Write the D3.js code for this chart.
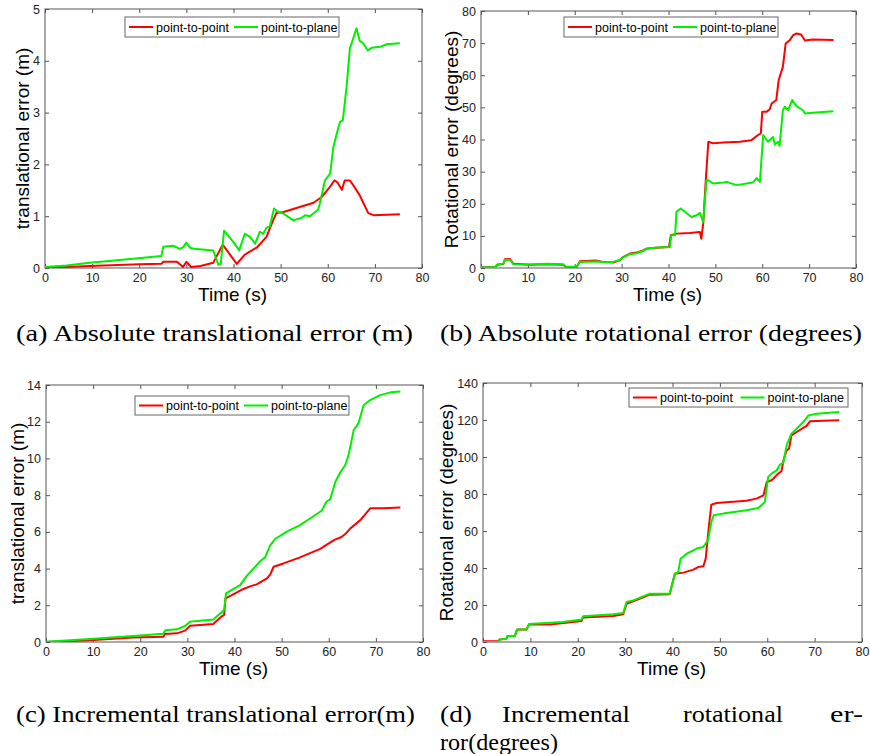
<!DOCTYPE html>
<html>
<head>
<meta charset="utf-8">
<script src="https://cdn.jsdelivr.net/npm/d3@7"></script>
<style>
  body { margin: 0; background: #fff; }
  svg { display: block; }
</style>
</head>
<body>
<div id="figure"></div>
<script>
// series names + x ticks shared by all four plots
const seriesNames = ["point-to-point", "point-to-plane"];
const timeTicks = [0, 10, 20, 30, 40, 50, 60, 70, 80];

// (a) absolute translational error, [time (s), error (m)]
const absTransPoint = [[0,0],[9.5,0.04],[20,0.07],[24.7,0.08],[25.1,0.12],[28,0.12],[29.3,0.02],[30,0.12],[31,0.02],[33,0.04],[35.7,0.1],[37.7,0.45],[40.7,0.08],[42.4,0.26],[45,0.4],[47,0.6],[48.4,0.92],[49.1,1.06],[50.6,1.08],[57,1.26],[58.7,1.37],[60.5,1.57],[61.4,1.69],[62,1.66],[63,1.51],[63.6,1.69],[64.7,1.69],[65.4,1.6],[66.8,1.4],[68.6,1.06],[69.7,1.02],[75.3,1.04]];
const absTransPlane = [[0,0.02],[4.6,0.05],[9.5,0.1],[18.7,0.18],[24.7,0.23],[25.1,0.41],[27.2,0.43],[28.6,0.37],[29.3,0.4],[30,0.49],[30.8,0.39],[31.6,0.37],[35.7,0.34],[36.8,0.06],[37.3,0.08],[38,0.72],[40,0.5],[41.2,0.34],[42.4,0.66],[43.5,0.6],[44.6,0.47],[45.6,0.7],[46.3,0.66],[47,0.78],[47.7,0.8],[48.6,1.15],[49.5,1.08],[50.6,1.05],[52.7,0.92],[54.5,0.97],[55.2,1.02],[56.2,1.0],[58,1.13],[58.3,1.24],[59.4,1.69],[60.5,1.82],[61.2,2.34],[62.1,2.66],[62.6,2.82],[63.2,2.85],[64,3.5],[64.7,4.24],[65.4,4.43],[66.1,4.63],[66.8,4.38],[67.5,4.34],[68.5,4.2],[69.3,4.25],[71.1,4.27],[72.5,4.32],[75.3,4.34]];

// (b) absolute rotational error, [time (s), error (deg)]
const absRotPoint = [[0,0.2],[3,0.2],[3.5,1.0],[4.8,1.3],[5.1,2.7],[6.2,2.8],[6.9,1.3],[10.4,1.0],[14,1.2],[17.5,1.0],[18.1,0.3],[20.4,0.3],[21.1,2.1],[24.7,2.3],[26,1.9],[28.2,1.7],[29.6,2.4],[30.3,3.4],[31.8,4.5],[33.2,4.8],[34.6,5.5],[35.3,6.0],[37.4,6.3],[40.1,6.5],[40.5,10.2],[41.7,10.7],[44.5,10.9],[46.7,11.2],[47,9.1],[47.4,13.8],[48,28.4],[48.5,39.3],[49.5,38.8],[51.7,39.1],[55.2,39.3],[57.7,39.8],[59.1,41.4],[59.7,41.9],[60,48.6],[60.9,48.6],[61.6,49.4],[62,51.2],[63,52.3],[63.5,58.5],[64.4,62.6],[65,69.9],[65.9,71],[66.6,72.5],[67.3,73],[68.3,72.7],[69.1,70.8],[70.8,71.1],[75.2,71]];
const absRotPlane = [[0,0.2],[3,0.2],[3.5,1.1],[4.8,1.4],[5.1,2.5],[6.2,2.5],[6.9,1.2],[10.4,1.1],[14,1.3],[17.5,1.2],[18.1,0.4],[20.4,0.4],[21.1,1.9],[24.7,2.0],[26,1.9],[28.2,1.9],[29.6,2.5],[30.3,3.3],[31.8,4.3],[33.2,4.6],[34.6,5.3],[35.3,6.0],[37.4,6.4],[40.3,6.5],[40.6,10.2],[41.4,10.2],[41.7,17.5],[42.6,18.5],[43.5,17.5],[44.9,15.9],[46,16.4],[46.7,17.2],[47.4,14.3],[48.1,27.3],[48.5,27.3],[49.5,26.3],[51.7,26.6],[52.4,26.8],[54.5,25.8],[58,26.6],[58.8,28],[59.5,26.8],[60.2,41.4],[61.2,39.3],[62.3,40.8],[62.7,38.5],[63.4,39.3],[63.7,38],[64.4,49.1],[64.8,50.2],[65.5,49.1],[66.4,52.3],[67.3,50.4],[68.7,49.1],[69.1,48.1],[70.8,48.3],[75.2,48.8]];

// (c) incremental translational error, [time (s), error (m)]
const incTransPoint = [[0,0],[9.3,0.1],[18.5,0.24],[24.9,0.29],[25.2,0.44],[27.8,0.47],[29.5,0.62],[30.6,0.89],[32.7,0.93],[35.5,0.98],[37,1.34],[37.8,1.47],[38.1,2.38],[39.8,2.61],[41.9,2.89],[43.3,3.03],[44.7,3.14],[46.9,3.47],[47.6,3.69],[48.3,4.1],[50.4,4.28],[53.9,4.61],[58.2,5.07],[60,5.37],[61.2,5.56],[62.7,5.72],[63.5,5.88],[64.6,6.19],[66.7,6.64],[68.8,7.28],[71.6,7.28],[75.2,7.33]];
const incTransPlane = [[0,0.02],[9.3,0.16],[18.5,0.33],[24.9,0.45],[25.3,0.64],[27.8,0.69],[29.5,0.87],[30.6,1.11],[32.7,1.16],[35.5,1.23],[37.8,1.74],[38.2,2.65],[39.8,2.89],[41.2,3.1],[42.6,3.6],[44.7,4.19],[45.5,4.41],[46.5,4.61],[47.6,5.28],[48.6,5.61],[51.1,6.01],[53.9,6.37],[56.1,6.74],[58.5,7.15],[59.5,7.64],[60.3,7.77],[61.4,8.73],[62.4,9.22],[63.5,9.64],[64.2,10.18],[65.3,11.55],[66.3,11.91],[67.4,12.9],[68.8,13.18],[70.9,13.45],[73.1,13.6],[75.2,13.65]];

// (d) incremental rotational error, [time (s), error (deg)]
const incRotPoint = [[0,0.4],[3.2,0.4],[3.5,1.4],[4.9,1.8],[5.2,3.2],[6.7,3.2],[7.2,6.8],[9.2,6.8],[9.7,9.4],[14.1,9.5],[18,10.5],[20.8,11.4],[21.1,13.3],[27.5,14],[29.6,15],[30.3,20.7],[31.7,22],[33.8,24.1],[35.2,25.6],[39.4,25.8],[40.5,36.9],[42.3,37.5],[44.4,39.1],[45.4,40.5],[46.5,40.9],[47,45],[47.7,63],[48.2,74.2],[49.3,75.1],[52.1,75.7],[55.6,76.4],[57.7,77.5],[59.2,79.3],[59.9,86.5],[60.9,87.4],[61.6,89.2],[62.3,91],[63,92.3],[63.5,99.1],[64.1,103.6],[64.6,104.5],[65.1,111.7],[66.2,113.5],[67.6,115.7],[68.3,116.8],[69,119.3],[71.8,119.6],[75.2,119.8]];
const incRotPlane = [[0,0],[3.2,0],[3.5,1.4],[4.9,1.8],[5.2,3.2],[6.7,3.2],[7.2,6.8],[9.2,6.8],[9.7,9.7],[16.9,10.8],[20.8,12.1],[21.1,13.9],[27.5,15],[29.6,15.7],[30.3,21.6],[31.7,22.5],[33.8,24.7],[35.2,26.1],[39.4,26.1],[40.5,36.9],[41.2,37.8],[41.7,45],[43,47.7],[45.1,50.5],[46.5,51.4],[47.5,55],[48.2,64.9],[48.7,68.5],[50.7,69.4],[55.6,71.2],[58.1,72.4],[59.5,75.7],[60.2,89.2],[60.9,91],[62,92.8],[62.7,95.9],[63.4,97],[64.1,106.3],[65.1,112.6],[66.2,115.3],[67.6,118.9],[68.7,122.5],[70.4,123.4],[75.2,124.3]];

// y ticks per plot
const absTransTicks = [0, 1, 2, 3, 4, 5];
const absRotTicks = [0, 10, 20, 30, 40, 50, 60, 70, 80];
const incTransTicks = [0, 2, 4, 6, 8, 10, 12, 14];
const incRotTicks = [0, 20, 40, 60, 80, 100, 120, 140];

const colors = ["#ff0000", "#00f000"];

const svg = d3.select("#figure")
  .append("svg")
    .attr("width", 870)
    .attr("height", 754);

// box coordinates taken from the figure layout
const panels = [
  {id: "a", box: [45, 9, 422, 268], series: [absTransPoint, absTransPlane], yTicks: absTransTicks,
   ylabel: "translational error (m)", ylabelX: 29, legend: [125, 17, 214, 20]},
  {id: "b", box: [481, 11, 856, 268], series: [absRotPoint, absRotPlane], yTicks: absRotTicks,
   ylabel: "Rotational error (degrees)", ylabelX: 458, legend: [564, 17, 214, 20]},
  {id: "c", box: [46, 385, 423, 642], series: [incTransPoint, incTransPlane], yTicks: incTransTicks,
   ylabel: "translational error (m)", ylabelX: 24, legend: [135, 396, 214, 19]},
  {id: "d", box: [483, 383, 862, 642], series: [incRotPoint, incRotPlane], yTicks: incRotTicks,
   ylabel: "Rotational error (degrees)", ylabelX: 453, legend: [629, 388, 219, 19]}
];

panels.forEach(p => {
  const [x0, y0, x1, y1] = p.box;
  const x = d3.scaleLinear().domain([0, 80]).range([x0, x1]);
  const y = d3.scaleLinear().domain([0, d3.max(p.yTicks)]).range([y1, y0]);

  const g = svg.append("g");

  g.append("clipPath").attr("id", "clip-" + p.id)
    .append("rect").attr("x", x0).attr("y", y0).attr("width", x1 - x0).attr("height", y1 - y0);

  // inward ticks on all four sides, labels only bottom/left
  const axes = [
    [d3.axisBottom(x).tickValues(timeTicks), `translate(0,${y1})`, true],
    [d3.axisTop(x).tickValues(timeTicks), `translate(0,${y0})`, false],
    [d3.axisLeft(y).tickValues(p.yTicks), `translate(${x0},0)`, true],
    [d3.axisRight(y).tickValues(p.yTicks), `translate(${x1},0)`, false]
  ];
  axes.forEach(([ax, tr, labels]) => {
    ax.tickSizeInner(-4).tickSizeOuter(0).tickPadding(labels ? 5 : 0)
      .tickFormat(labels ? d3.format("d") : "");
    const a = g.append("g").attr("transform", tr).call(ax);
    a.select(".domain").remove();
    a.selectAll("line").attr("stroke", "#555");
    a.selectAll("text")
      .attr("fill", "#222")
      .style("font-family", "'Liberation Sans', Arial, sans-serif")
      .style("font-size", "12.5px");
  });

  g.append("rect")
    .attr("x", x0).attr("y", y0)
    .attr("width", x1 - x0).attr("height", y1 - y0)
    .attr("fill", "none").attr("stroke", "#555").attr("stroke-width", 1);

  const line = d3.line().x(d => x(d[0])).y(d => y(d[1]));

  // green drawn last, it sits on top of red in the figure
  p.series.forEach((s, i) => {
    g.append("path")
      .datum(s)
      .attr("clip-path", `url(#clip-${p.id})`)
      .attr("fill", "none")
      .attr("stroke", colors[i])
      .attr("stroke-width", 2)
      .attr("stroke-linejoin", "round")
      .attr("d", line);
  });

  // axis labels
  g.append("text")
    .attr("x", (x0 + x1) / 2 - 1)
    .attr("y", y1 + 33)
    .attr("text-anchor", "middle")
    .style("font-family", "'Liberation Sans', Arial, sans-serif")
    .style("font-size", "19px")
    .text("Time (s)");

  g.append("text")
    .attr("transform", `translate(${p.ylabelX},${(y0 + y1) / 2}) rotate(-90)`)
    .attr("text-anchor", "middle")
    .style("font-family", "'Liberation Sans', Arial, sans-serif")
    .style("font-size", "19px")
    .text(p.ylabel);

  // legend
  const [lx, ly, lw, lh] = p.legend;
  const leg = g.append("g").attr("transform", `translate(${lx},${ly})`);
  leg.append("rect")
    .attr("width", lw).attr("height", lh)
    .attr("fill", "#fff").attr("stroke", "#666");
  const itemX = [4, lw / 2 + 2];
  seriesNames.forEach((name, i) => {
    leg.append("line")
      .attr("x1", itemX[i]).attr("x2", itemX[i] + 24)
      .attr("y1", lh / 2).attr("y2", lh / 2)
      .attr("stroke", colors[i]).attr("stroke-width", 2);
    leg.append("text")
      .attr("x", itemX[i] + 27)
      .attr("y", lh / 2 + 4.5)
      .style("font-family", "'Liberation Sans', Arial, sans-serif")
      .style("font-size", "12.5px")
      .text(name);
  });
});

// sub-figure captions (LaTeX style, serif)
const captions = [
  {text: "(a) Absolute translational error (m)", x: 16, y: 341, w: 397},
  {text: "(b) Absolute rotational error (degrees)", x: 440, y: 341, w: 422},
  {text: "(c) Incremental translational error(m)", x: 16, y: 722, w: 399},
  {text: "(d)", x: 440, y: 722, w: 32},
  {text: "Incremental", x: 502, y: 722, w: 128},
  {text: "rotational", x: 683, y: 722, w: 100},
  {text: "er-", x: 830, y: 722, w: 33},
  {text: "ror(degrees)", x: 440, y: 750, w: 118}
];

svg.append("g")
  .selectAll("text")
  .data(captions)
  .join("text")
    .attr("x", d => d.x)
    .attr("y", d => d.y)
    .attr("textLength", d => d.w)
    .attr("lengthAdjust", "spacingAndGlyphs")
    .style("font-family", "'Liberation Serif', 'DejaVu Serif', serif")
    .style("font-size", "23px")
    .text(d => d.text);
</script>
</body>
</html>
